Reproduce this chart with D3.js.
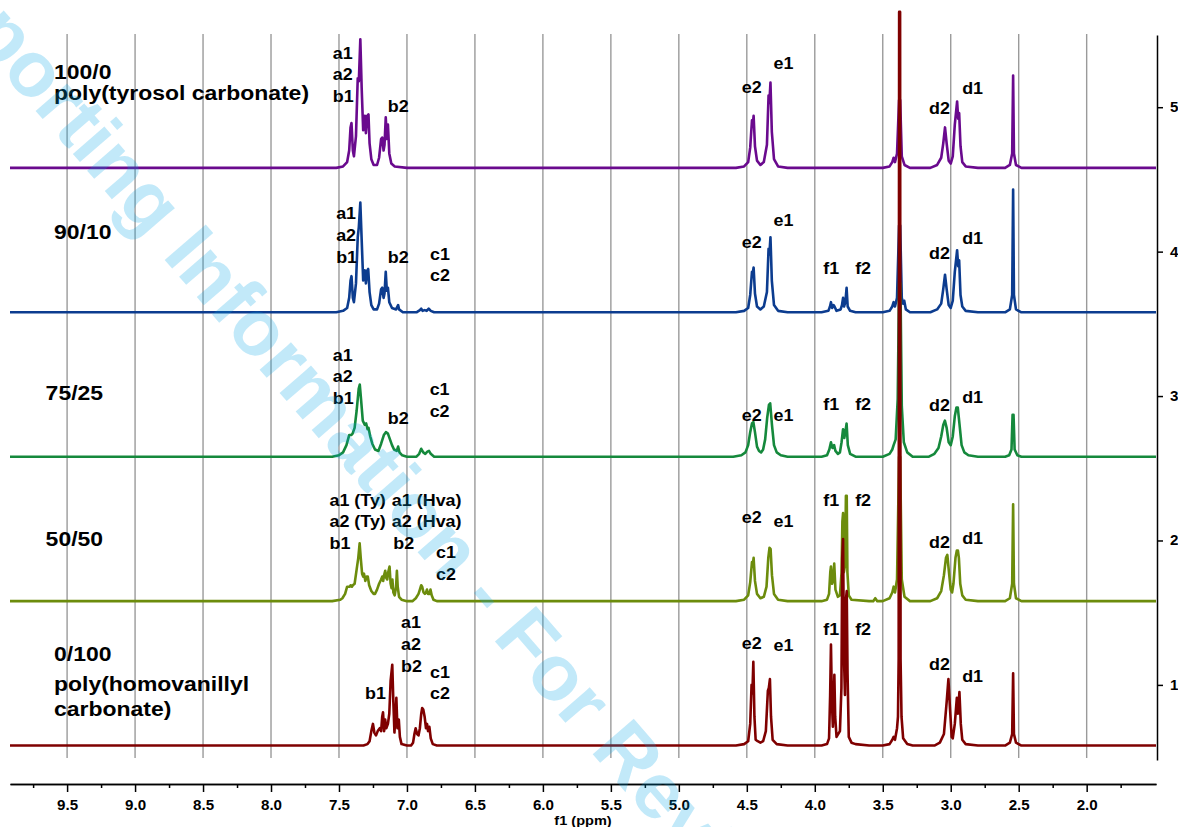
<!DOCTYPE html>
<html lang="en">
<head>
    <meta charset="UTF-8">
    <title>1H NMR stack</title>
    <script src="https://d3js.org/d3.v7.min.js"></script>
    <style>
        body { margin: 0; background: #fff; }
        svg { display: block; font-family: "Liberation Sans", Arial, sans-serif; }
        .grid line { stroke: #9a9a9a; stroke-width: 1.4; }
        .axis path, .axis line { stroke: #000; stroke-width: 1.5; }
        .axis text { font-size: 14px; font-weight: bold; fill: #000; }
        .peak { font-size: 16px; font-weight: bold; fill: #000; }
        .sample { font-size: 20.5px; font-weight: bold; fill: #000; }
        .spec { fill: none; stroke-width: 2.6; stroke-linejoin: round; }
    </style>
</head>
<body>
    <div id="chart"></div>

    <script>
        // chemical shift ticks (ppm) and intensity ticks
        const majorTicks = [9.5, 9.0, 8.5, 8.0, 7.5, 7.0, 6.5, 6.0, 5.5, 5.0, 4.5, 4.0, 3.5, 3.0, 2.5, 2.0];
        const minorTicks = [9.75, 9.25, 8.75, 8.25, 7.75, 7.25, 6.75, 6.25, 5.75, 5.25, 4.75, 4.25, 3.75, 3.25, 2.75, 2.25, 1.75];
        const yTicks = [1, 2, 3, 4, 5];

        // stack order, top to bottom
        const samples = ["100/0", "90/10", "75/25", "50/50", "0/100"];
        const offsets = [4.58, 3.58, 2.58, 1.58, 0.58];
        const colors = ["#6a0a8e", "#0c3c8f", "#15893c", "#6c8c0c", "#7f0000"];

        // spectra: [ppm, intensity above own baseline]
        const spec100 = [
            [9.92,0],[7.52,0],[7.47,0.01],[7.44,0.04],[7.425,0.12],[7.415,0.28],[7.408,0.31],[7.398,0.12],[7.39,0.08],[7.375,0.22],
            [7.362,0.62],[7.354,0.6],[7.343,0.89],[7.333,0.55],[7.322,0.26],[7.31,0.36],[7.302,0.24],[7.292,0.36],[7.283,0.37],[7.275,0.17],
            [7.262,0.06],[7.245,0.02],[7.22,0.02],[7.205,0.07],[7.19,0.2],[7.182,0.21],[7.172,0.12],[7.165,0.16],[7.156,0.35],[7.148,0.2],
            [7.14,0.3],[7.13,0.1],[7.115,0.03],[7.09,0.01],[7.0,0],
            [4.58,0],[4.52,0.01],[4.49,0.04],[4.475,0.14],[4.462,0.33],[4.456,0.3],[4.45,0.36],[4.44,0.15],[4.425,0.05],[4.40,0.02],
            [4.375,0.04],[4.352,0.16],[4.34,0.5],[4.334,0.45],[4.326,0.59],[4.316,0.25],[4.30,0.06],[4.27,0.01],[4.2,0],
            [3.5,0],[3.45,0.01],[3.43,0.04],[3.42,0.07],[3.41,0.04],[3.395,0.1],[3.38,0.47],[3.372,0.47],[3.36,0.08],[3.34,0.02],[3.3,0],
            [3.15,0],[3.1,0.02],[3.07,0.07],[3.055,0.17],[3.042,0.28],[3.03,0.17],[3.015,0.05],[3.0,0.03],[2.985,0.08],[2.97,0.3],
            [2.953,0.46],[2.945,0.34],[2.938,0.38],[2.928,0.15],[2.915,0.04],[2.89,0.01],[2.8,0],
            [2.6,0],[2.565,0.02],[2.548,0.1],[2.541,0.64],[2.535,0.1],[2.52,0.02],[2.48,0],[1.49,0]
        ];
        const spec90 = [
            [9.92,0],[7.52,0],[7.47,0.01],[7.44,0.03],[7.425,0.1],[7.415,0.22],[7.408,0.25],[7.398,0.1],[7.39,0.07],[7.375,0.2],
            [7.362,0.52],[7.354,0.59],[7.343,0.76],[7.333,0.5],[7.322,0.22],[7.31,0.29],[7.302,0.2],[7.292,0.29],[7.285,0.3],[7.275,0.14],
            [7.262,0.05],[7.245,0.02],[7.22,0.02],[7.205,0.06],[7.19,0.16],[7.182,0.17],[7.172,0.1],[7.165,0.13],[7.156,0.28],[7.148,0.15],
            [7.14,0.17],[7.13,0.07],[7.11,0.03],[7.08,0.02],[7.065,0.05],[7.058,0.02],[7.03,0],
            [6.93,0],[6.905,0.015],[6.895,0.025],[6.885,0.01],[6.87,0.015],[6.855,0.01],[6.84,0.025],[6.825,0.01],[6.8,0],
            [4.58,0],[4.52,0.01],[4.49,0.03],[4.475,0.12],[4.462,0.28],[4.456,0.27],[4.45,0.31],[4.44,0.13],[4.425,0.04],[4.40,0.02],
            [4.375,0.04],[4.352,0.14],[4.34,0.44],[4.334,0.4],[4.326,0.52],[4.316,0.22],[4.30,0.05],[4.27,0.01],[4.2,0],
            [3.95,0],[3.9,0.01],[3.888,0.04],[3.881,0.07],[3.872,0.03],[3.862,0.05],[3.855,0.04],[3.84,0.01],[3.81,0.02],[3.8,0.05],
            [3.792,0.1],[3.785,0.04],[3.775,0.07],[3.766,0.17],[3.758,0.04],[3.74,0.01],[3.7,0],
            [3.5,0],[3.45,0.01],[3.43,0.04],[3.42,0.07],[3.41,0.04],[3.395,0.1],[3.38,0.6],[3.372,0.6],[3.36,0.1],[3.35,0.06],
            [3.342,0.08],[3.33,0.02],[3.3,0],
            [3.15,0],[3.1,0.02],[3.07,0.06],[3.055,0.16],[3.042,0.26],[3.03,0.16],[3.015,0.05],[3.0,0.03],[2.985,0.08],[2.97,0.28],
            [2.953,0.43],[2.945,0.32],[2.938,0.36],[2.928,0.12],[2.915,0.04],[2.89,0.01],[2.8,0],
            [2.6,0],[2.565,0.02],[2.548,0.12],[2.541,0.85],[2.535,0.12],[2.52,0.02],[2.48,0],[1.49,0]
        ];
        const spec75 = [
            [9.92,0],[7.55,0],[7.5,0.01],[7.47,0.03],[7.445,0.08],[7.425,0.15],[7.41,0.15],[7.4,0.16],[7.385,0.2],[7.37,0.32],
            [7.355,0.47],[7.347,0.5],[7.338,0.4],[7.325,0.25],[7.31,0.22],[7.3,0.23],[7.29,0.19],[7.283,0.2],[7.27,0.14],[7.255,0.09],
            [7.235,0.05],[7.21,0.04],[7.19,0.09],[7.17,0.15],[7.155,0.17],[7.14,0.16],[7.125,0.12],[7.11,0.08],[7.095,0.05],[7.075,0.04],
            [7.065,0.07],[7.055,0.03],[7.035,0.01],[7.0,0],
            [6.93,0],[6.91,0.02],[6.895,0.055],[6.88,0.03],[6.865,0.02],[6.85,0.035],[6.838,0.04],[6.825,0.02],[6.8,0],
            [4.6,0],[4.54,0.01],[4.51,0.03],[4.49,0.08],[4.475,0.17],[4.462,0.23],[4.452,0.24],[4.44,0.17],[4.425,0.07],[4.41,0.04],
            [4.395,0.03],[4.38,0.05],[4.365,0.12],[4.35,0.27],[4.337,0.36],[4.328,0.37],[4.315,0.22],[4.30,0.08],[4.28,0.03],[4.25,0.01],[4.2,0],
            [3.95,0],[3.91,0.01],[3.893,0.05],[3.881,0.1],[3.87,0.06],[3.858,0.08],[3.848,0.04],[3.83,0.02],[3.815,0.03],[3.803,0.1],
            [3.792,0.19],[3.783,0.13],[3.775,0.17],[3.766,0.23],[3.757,0.08],[3.74,0.02],[3.7,0],
            [3.5,0],[3.45,0.02],[3.43,0.05],[3.42,0.08],[3.405,0.12],[3.39,0.4],[3.38,1.2],[3.37,1.2],[3.36,0.35],[3.345,0.1],[3.32,0.03],[3.28,0],
            [3.16,0],[3.12,0.02],[3.09,0.06],[3.07,0.14],[3.055,0.22],[3.043,0.25],[3.03,0.2],[3.015,0.1],[3.0,0.08],[2.985,0.14],
            [2.97,0.28],[2.958,0.34],[2.948,0.34],[2.935,0.22],[2.92,0.08],[2.9,0.03],[2.87,0.01],[2.8,0],
            [2.6,0],[2.57,0.01],[2.553,0.05],[2.545,0.29],[2.538,0.29],[2.53,0.05],[2.51,0.01],[2.48,0],[1.49,0]
        ];
        const spec50 = [
            [9.92,0],[7.55,0],[7.49,0.01],[7.475,0.02],[7.455,0.05],[7.44,0.1],[7.43,0.1],[7.42,0.1],[7.414,0.11],[7.405,0.1],
            [7.398,0.11],[7.385,0.12],[7.37,0.22],[7.358,0.3],[7.348,0.4],[7.34,0.3],[7.33,0.19],[7.322,0.17],[7.316,0.19],[7.306,0.14],
            [7.296,0.17],[7.288,0.17],[7.278,0.11],[7.262,0.07],[7.245,0.05],[7.235,0.05],[7.22,0.08],[7.205,0.12],[7.19,0.15],[7.182,0.17],
            [7.175,0.14],[7.168,0.18],[7.16,0.21],[7.152,0.16],[7.145,0.15],[7.138,0.2],[7.128,0.24],[7.12,0.12],[7.113,0.09],[7.107,0.15],
            [7.1,0.06],[7.09,0.04],[7.08,0.1],[7.074,0.21],[7.068,0.1],[7.058,0.03],[7.04,0.01],[7.0,0],
            [6.96,0],[6.935,0.02],[6.915,0.05],[6.905,0.08],[6.895,0.11],[6.888,0.1],[6.878,0.06],[6.868,0.05],[6.86,0.06],[6.853,0.08],
            [6.845,0.05],[6.835,0.05],[6.827,0.08],[6.818,0.04],[6.805,0.01],[6.78,0],
            [4.58,0],[4.52,0.01],[4.49,0.04],[4.475,0.13],[4.462,0.27],[4.456,0.25],[4.45,0.3],[4.44,0.14],[4.425,0.05],[4.40,0.02],
            [4.375,0.03],[4.355,0.1],[4.342,0.3],[4.333,0.37],[4.325,0.36],[4.315,0.18],[4.30,0.05],[4.27,0.01],[4.2,0],
            [3.95,0],[3.91,0.01],[3.895,0.05],[3.886,0.2],[3.881,0.24],[3.872,0.12],[3.865,0.15],[3.857,0.26],[3.848,0.08],[3.83,0.03],
            [3.815,0.04],[3.803,0.2],[3.797,0.55],[3.792,0.61],[3.786,0.2],[3.777,0.25],[3.771,0.73],[3.765,0.73],[3.76,0.2],[3.75,0.04],
            [3.73,0.01],[3.6,0],[3.57,0],[3.555,0.02],[3.54,0],
            [3.5,0],[3.45,0.02],[3.43,0.06],[3.42,0.1],[3.41,0.06],[3.395,0.15],[3.38,1.0],[3.372,1.0],[3.36,0.15],[3.34,0.03],[3.3,0],
            [3.15,0],[3.1,0.02],[3.07,0.07],[3.05,0.18],[3.035,0.3],[3.025,0.32],[3.015,0.22],[3.0,0.08],[2.99,0.06],[2.98,0.12],
            [2.965,0.3],[2.955,0.35],[2.947,0.35],[2.94,0.3],[2.93,0.12],[2.915,0.04],[2.89,0.01],[2.8,0],
            [2.6,0],[2.565,0.02],[2.548,0.12],[2.541,0.67],[2.535,0.12],[2.52,0.02],[2.48,0],[1.49,0]
        ];
        const spec0 = [
            [9.92,0],[7.32,0],[7.29,0.01],[7.275,0.03],[7.262,0.1],[7.25,0.15],[7.24,0.09],[7.228,0.07],[7.215,0.1],[7.2,0.12],
            [7.19,0.1],[7.182,0.2],[7.176,0.23],[7.168,0.1],[7.16,0.18],[7.152,0.12],[7.14,0.15],[7.13,0.22],[7.12,0.45],[7.108,0.56],
            [7.1,0.3],[7.092,0.09],[7.085,0.2],[7.078,0.33],[7.07,0.12],[7.06,0.18],[7.052,0.06],[7.04,0.01],[7.0,0],
            [6.97,0],[6.955,0.02],[6.945,0.08],[6.936,0.12],[6.925,0.08],[6.915,0.07],[6.905,0.12],[6.895,0.22],[6.888,0.26],[6.88,0.25],
            [6.87,0.2],[6.86,0.12],[6.852,0.15],[6.845,0.1],[6.835,0.13],[6.825,0.05],[6.81,0.01],[6.78,0],
            [4.58,0],[4.52,0.01],[4.49,0.03],[4.475,0.15],[4.465,0.42],[4.459,0.36],[4.452,0.58],[4.444,0.2],[4.435,0.04],[4.42,0.03],
            [4.40,0.02],[4.38,0.03],[4.36,0.1],[4.345,0.38],[4.338,0.4],[4.33,0.46],[4.322,0.2],[4.31,0.04],[4.28,0.01],[4.2,0],
            [3.95,0],[3.91,0.01],[3.895,0.05],[3.887,0.35],[3.881,0.7],[3.874,0.3],[3.867,0.13],[3.861,0.3],[3.856,0.49],[3.85,0.2],
            [3.84,0.06],[3.815,0.1],[3.804,0.4],[3.798,1.3],[3.792,1.43],[3.785,0.6],[3.778,0.35],[3.772,1.0],[3.765,1.07],[3.759,0.5],
            [3.75,0.06],[3.73,0.02],[3.7,0.01],[3.6,0],
            [3.5,0],[3.45,0.01],[3.43,0.04],[3.42,0.06],[3.41,0.04],[3.395,0.12],[3.388,0.2],[3.383,0.6],[3.3795,5.08],[3.3725,5.08],
            [3.369,0.6],[3.362,0.2],[3.35,0.05],[3.32,0.01],[3.28,0],
            [3.12,0],[3.08,0.02],[3.05,0.08],[3.03,0.3],[3.017,0.46],[3.005,0.25],[2.993,0.06],[2.985,0.05],[2.97,0.15],[2.955,0.33],
            [2.947,0.22],[2.936,0.37],[2.926,0.15],[2.915,0.04],[2.89,0.01],[2.8,0],
            [2.6,0],[2.565,0.02],[2.548,0.08],[2.541,0.5],[2.535,0.08],[2.52,0.02],[2.48,0],[1.49,0]
        ];
        const spectra = [spec100, spec90, spec75, spec50, spec0];

        // peak assignments: [text, ppm, axis value]
        const labels100 = [["a1",7.545,5.334],["a2",7.545,5.188],["b1",7.545,5.038],["b2",7.141,4.969],
            ["e2",4.537,5.098],["e1",4.304,5.265],["d2",3.159,4.953],["d1",2.916,5.091]];
        const labels90 = [["a1",7.521,4.226],["a2",7.521,4.074],["b1",7.521,3.923],["b2",7.141,3.919],["c1",6.830,3.942],["c2",6.830,3.799],
            ["e2",4.537,4.025],["e1",4.304,4.177],["f1",3.937,3.845],["f2",3.703,3.845],["d2",3.159,3.949],["d1",2.916,4.053]];
        const labels75 = [["a1",7.545,3.246],["a2",7.545,3.094],["b1",7.545,2.945],["b2",7.141,2.804],["c1",6.833,3.007],["c2",6.833,2.855],
            ["e2",4.537,2.827],["e1",4.304,2.827],["f1",3.937,2.903],["f2",3.703,2.903],["d2",3.159,2.896],["d1",2.916,2.952]];
        const labels50 = [["a1 (Ty)",7.570,2.239],["a1 (Hva)",7.111,2.239],["a2 (Ty)",7.570,2.091],["a2 (Hva)",7.111,2.091],
            ["b1",7.570,1.939],["b2",7.100,1.939],["c1",6.786,1.877],["c2",6.786,1.726],
            ["e2",4.537,2.119],["e1",4.304,2.091],["f1",3.937,2.239],["f2",3.703,2.239],["d2",3.159,1.946],["d1",2.916,1.976]];
        const labels0 = [["a1",7.043,1.392],["a2",7.043,1.242],["b2",7.043,1.091],["b1",7.308,0.900],["c1",6.830,1.050],["c2",6.830,0.900],
            ["e2",4.537,1.246],["e1",4.304,1.237],["f1",3.937,1.345],["f2",3.703,1.345],["d2",3.159,1.103],["d1",2.916,1.022]];
        const peakLabels = [labels100, labels90, labels75, labels50, labels0];

        const sampleLabels = [["100/0",9.596,5.195],["poly(tyrosol carbonate)",9.596,5.05],["90/10",9.596,4.087],
            ["75/25",9.658,2.973],["50/50",9.658,1.962],["0/100",9.596,1.165],["poly(homovanillyl",9.596,0.960],["carbonate)",9.596,0.786]];

        const W = 1178, H = 827;
        const stretch = 1.12;   // the figure text is a little wide

        const svg = d3.select("#chart").append("svg")
            .attr("width", W)
            .attr("height", H);

        const x = d3.scaleLinear().domain([9.92, 1.49]).range([10, 1156]);
        const y = d3.scaleLinear().domain([0.48, 5.5]).range([760, 35]);

        // vertical grid
        svg.append("g").attr("class", "grid")
            .selectAll("line")
            .data(majorTicks)
            .enter().append("line")
            .attr("x1", d => x(d)).attr("x2", d => x(d))
            .attr("y1", y(5.5) - 1).attr("y2", y(0.48) - 2);

        // bottom axis: minor ticks first, then labelled major ticks
        svg.append("g").attr("class", "axis")
            .attr("transform", "translate(0,784)")
            .call(d3.axisBottom(x).tickValues(minorTicks).tickSize(4).tickSizeOuter(0).tickFormat(""));
        const xAxis = svg.append("g").attr("class", "axis")
            .attr("transform", "translate(0,784)")
            .call(d3.axisBottom(x).tickValues(majorTicks).tickSize(8).tickSizeOuter(0).tickPadding(8).tickFormat(d3.format(".1f")));
        xAxis.selectAll("text").attr("transform", "scale(1.08,1)");

        svg.append("text")
            .attr("transform", `translate(583,825) scale(${stretch},1)`)
            .attr("text-anchor", "middle")
            .style("font-size", "13px")
            .style("font-weight", "bold")
            .text("f1 (ppm)");

        // right intensity axis
        const yAxis = svg.append("g").attr("class", "axis")
            .attr("transform", "translate(1157,0)")
            .call(d3.axisRight(y).tickValues(yTicks).tickSize(6).tickSizeOuter(0).tickPadding(6).tickFormat(d3.format("d")));
        yAxis.selectAll("text").attr("transform", "scale(1.08,1)");

        // spectra, drawn from the top trace down so the bottom one sits on top
        spectra.forEach((s, i) => {
            const line = d3.line()
                .x(d => x(d[0]))
                .y(d => y(offsets[i] + d[1]));
            svg.append("path")
                .datum(s)
                .attr("class", "spec")
                .attr("stroke", colors[i])
                .attr("d", line);
        });

        function addText(cls, d) {
            svg.append("text")
                .attr("class", cls)
                .attr("transform", `translate(${x(d[1])},${y(d[2])}) scale(${stretch},1)`)
                .text(d[0]);
        }
        peakLabels.forEach(list => list.forEach(d => addText("peak", d)));
        sampleLabels.forEach(d => addText("sample", d));

        // review watermark over everything
        svg.append("text")
            .attr("transform", "translate(-129,-79) rotate(49.1)")
            .style("font-size", "79px")
            .style("font-weight", "bold")
            .style("fill", "#00a2e8")
            .style("fill-opacity", 0.24)
            .text("Supporting Information - For Review Only");
    </script>
</body>
</html>
